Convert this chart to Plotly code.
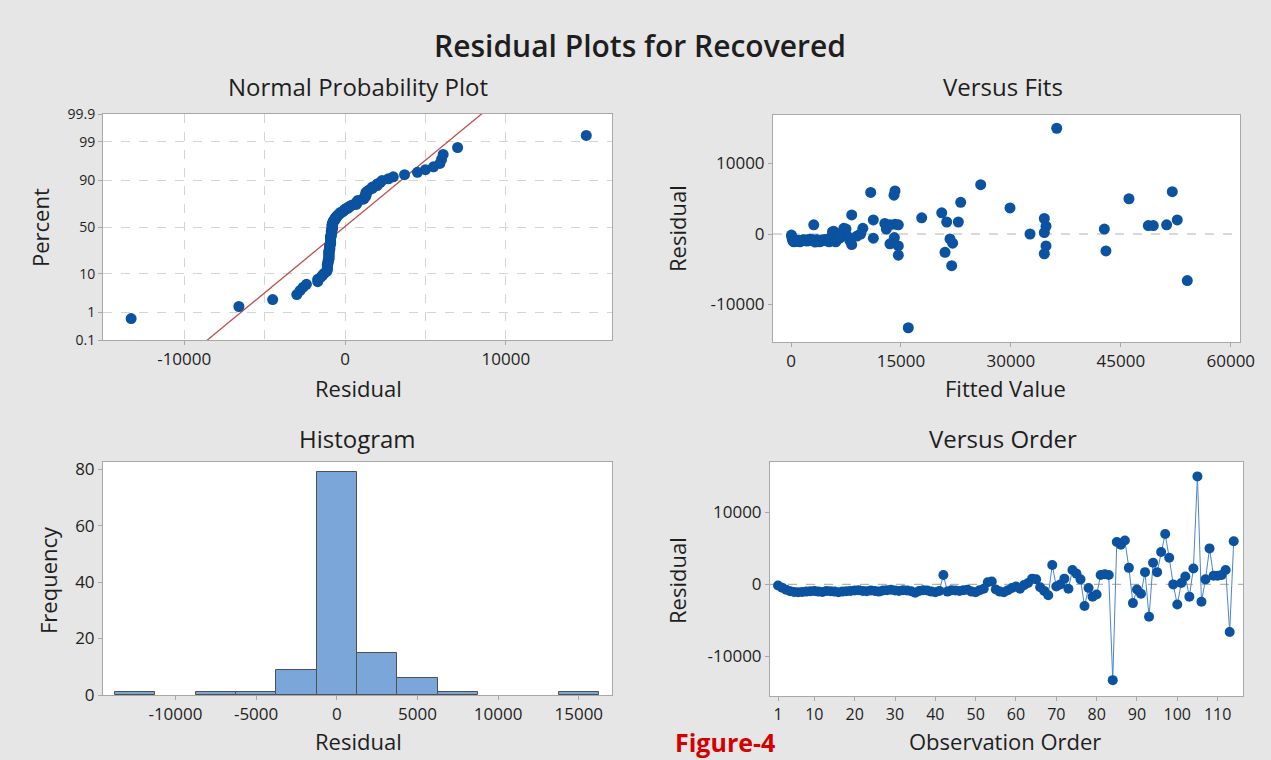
import plotly.graph_objects as go
from statistics import NormalDist, mean, stdev

# Residuals of the regression for "Recovered", in observation order
residuals = [
    -150, -450, -750, -950, -1050, -1100, -1050, -1000, -950, -900,
    -1000, -1050, -900, -950, -1000, -1100, -1000, -950, -900, -850,
    -800, -900, -950, -850, -900, -1000, -850, -800, -750, -850,
    -900, -800, -850, -950, -1150, -900, -800, -850, -1000, -1100,
    -900, 1300, -1000, -800, -850, -900, -800, -750, -1000, -1100,
    -800, -600, 300, 400, -700, -1000, -1100, -800, -500, -300,
    -600, -100, 200, 800, 700, -400, -900, -1500, 2700, -300,
    0, 800, -600, 2000, 1500, 700, -3000, -500, -1700, -1400,
    1300, 1400, 1300, -13300, 5900, 5500, 6100, 2300, -2600, -700,
    -1300, 1700, -4500, 3000, 1700, 4500, 7000, 3700, 0, -2800,
    200, 1100, -1700, 2200, 15000, -2400, 700, 5000, 1200, 1200,
    1300, 2000, -6600, 6000,
]

# Fitted values, same order
fitted = [
    60, 120, 180, 260, 330, 400, 470, 540, 620, 700,
    780, 860, 950, 1040, 1130, 1220, 1310, 1400, 1500, 1600,
    1700, 1800, 1900, 2000, 2100, 2200, 2320, 2440, 2560, 2680,
    2800, 2920, 3040, 3160, 3280, 3400, 3520, 3640, 3760, 3880,
    4000, 3100, 4150, 4300, 4450, 4600, 4750, 4900, 5050, 5200,
    5350, 5500, 5650, 5800, 5900, 6000, 6100, 6200, 6350, 6500,
    6650, 6800, 7000, 7200, 7500, 7800, 8000, 8280, 8280, 9000,
    9500, 9800, 11230, 11230, 12800, 13000, 14640, 14100, 14640, 13500,
    13500, 14200, 14640, 16000, 10870, 14050, 14190, 17830, 21010, 21690,
    22050, 21240, 21920, 20560, 22830, 23150, 25880, 29880, 32610, 34560,
    34560, 34790, 34790, 34560, 36250, 42970, 42750, 46110, 48750, 49430,
    51250, 52700, 54070, 52020,
]

order = list(range(1, len(residuals) + 1))

prob_levels = [0.1, 1, 10, 50, 90, 99, 99.9]
prob_labels = ["0.1", "1", "10", "50", "90", "99", "99.9"]

# ---- derived quantities -------------------------------------------------
nd = NormalDist()
n = len(residuals)
sorted_res = sorted(residuals)
z_scores = [nd.inv_cdf((i + 1 - 0.3) / (n + 0.4)) for i in range(n)]
mu, sigma = mean(residuals), stdev(residuals)
z_line = [-3.4, 3.4]
x_line = [mu + sigma * z for z in z_line]
prob_z = [nd.inv_cdf(p / 100) for p in prob_levels]

BLUE = "#0b52a0"
LINE_BLUE = "#4a86cf"
FONT = "Open Sans, Noto Sans, sans-serif"
TXT = "#1e1e1e"

fig = go.Figure()

# Normal probability plot
fig.add_trace(go.Scatter(x=x_line, y=z_line, mode="lines",
                         line=dict(color="#c0504d", width=1.3),
                         xaxis="x", yaxis="y", showlegend=False))
fig.add_trace(go.Scatter(x=sorted_res, y=z_scores, mode="markers",
                         marker=dict(color=BLUE, size=11),
                         xaxis="x", yaxis="y", showlegend=False))

# Versus fits
fig.add_trace(go.Scatter(x=fitted, y=residuals, mode="markers",
                         marker=dict(color=BLUE, size=11),
                         xaxis="x2", yaxis="y2", showlegend=False))

# Histogram
fig.add_trace(go.Histogram(x=residuals,
                           xbins=dict(start=-13750, end=16250, size=2500),
                           marker=dict(color="#7aa6da",
                                       line=dict(color="#505050", width=1)),
                           xaxis="x3", yaxis="y3", showlegend=False))

# Versus order
fig.add_trace(go.Scatter(x=order, y=residuals, mode="lines+markers",
                         line=dict(color=LINE_BLUE, width=1),
                         marker=dict(color=BLUE, size=10),
                         xaxis="x4", yaxis="y4", showlegend=False))

W, H = 1271, 760


def dom_x(a, b):
    return [a / W, b / W]


def dom_y(top, bottom):
    return [1 - bottom / H, 1 - top / H]


def ticks(vals):
    return dict(tickvals=vals, ticktext=[str(v) for v in vals])


TICK = dict(family=FONT, size=17, color=TXT)
axis_common = dict(showline=True, mirror=True, linecolor="#a8a8a8", linewidth=1,
                   ticks="outside", ticklen=4, tickcolor="#a8a8a8",
                   tickfont=TICK, zeroline=False, showgrid=False,
                   automargin=False)

fig.update_layout(
    width=W, height=H,
    margin=dict(l=0, r=0, t=0, b=0, autoexpand=False),
    paper_bgcolor="#e6e6e6",
    plot_bgcolor="white",
    bargap=0,
    font=dict(family=FONT, color=TXT),
    xaxis=dict(axis_common, domain=dom_x(103, 612), anchor="y",
               range=[-15050, 16600], **ticks([-10000, 0, 10000]),
               showgrid=True, gridcolor="#d4d4d4", griddash="dash",
               minor=dict(tickvals=[-5000, 5000], showgrid=True,
                          gridcolor="#d4d4d4", griddash="dash", ticks="")),
    yaxis=dict(axis_common, domain=dom_y(114, 340), anchor="x",
               range=[prob_z[0], prob_z[-1]], tickvals=prob_z, ticktext=prob_labels,
               tickfont=dict(family=FONT, size=14, color=TXT),
               showgrid=True, gridcolor="#d4d4d4", griddash="dash"),
    xaxis2=dict(axis_common, domain=dom_x(773, 1240), anchor="y2",
                range=[-2460, 61260], **ticks([0, 15000, 30000, 45000, 60000])),
    yaxis2=dict(axis_common, domain=dom_y(115, 342), anchor="x2",
                range=[-15320, 16880], **ticks([-10000, 0, 10000])),
    xaxis3=dict(axis_common, domain=dom_x(103, 612), anchor="y3",
                range=[-14490, 17060],
                **ticks([-10000, -5000, 0, 5000, 10000, 15000])),
    yaxis3=dict(axis_common, domain=dom_y(462, 695), anchor="x3",
                range=[0, 82.5], **ticks([0, 20, 40, 60, 80])),
    xaxis4=dict(axis_common, domain=dom_x(770, 1243), anchor="y4",
                range=[-1, 116.3],
                tickfont=dict(family=FONT, size=16, color=TXT),
                **ticks([1, 10, 20, 30, 40, 50, 60, 70, 80, 90, 100, 110])),
    yaxis4=dict(axis_common, domain=dom_y(462, 696), anchor="x4",
                range=[-15500, 17000], **ticks([-10000, 0, 10000])),
)

# Zero reference lines on the residual plots
for xa, ya in (("x2", "y2"), ("x4", "y4")):
    fig.add_shape(type="line", xref=f"{xa} domain", yref=ya,
                  x0=0, x1=1, y0=0, y1=0, layer="below",
                  line=dict(color="#b4b4b4", width=1.2, dash="dash"))


def label(text, cx, cy, size, angle=0, color=TXT, weight="normal"):
    fig.add_annotation(text=text, x=cx / W, y=1 - cy / H,
                       xref="paper", yref="paper",
                       xanchor="center", yanchor="middle", showarrow=False,
                       textangle=angle, borderpad=0,
                       font=dict(family=FONT, size=size, color=color, weight=weight))


# Main and panel titles
label("Residual Plots for Recovered", 640, 45, 30, weight=600)
for text, cx, cy in (("Normal Probability Plot", 358, 86), ("Versus Fits", 1003, 86),
                     ("Histogram", 357, 438), ("Versus Order", 1003, 438)):
    label(text, cx, cy, 24)

# Axis titles
for text, cx, cy, ang in (("Residual", 358, 388, 0), ("Percent", 40, 228, -90),
                          ("Fitted Value", 1005, 388, 0), ("Residual", 677, 228, -90),
                          ("Frequency", 48, 580, -90), ("Residual", 358, 741, 0),
                          ("Observation Order", 1005, 741, 0), ("Residual", 677, 580, -90)):
    label(text, cx, cy, 22, angle=ang)

label("Figure-4", 725, 742, 25, color="#d40000", weight="bold")

fig.write_html("out.html")
